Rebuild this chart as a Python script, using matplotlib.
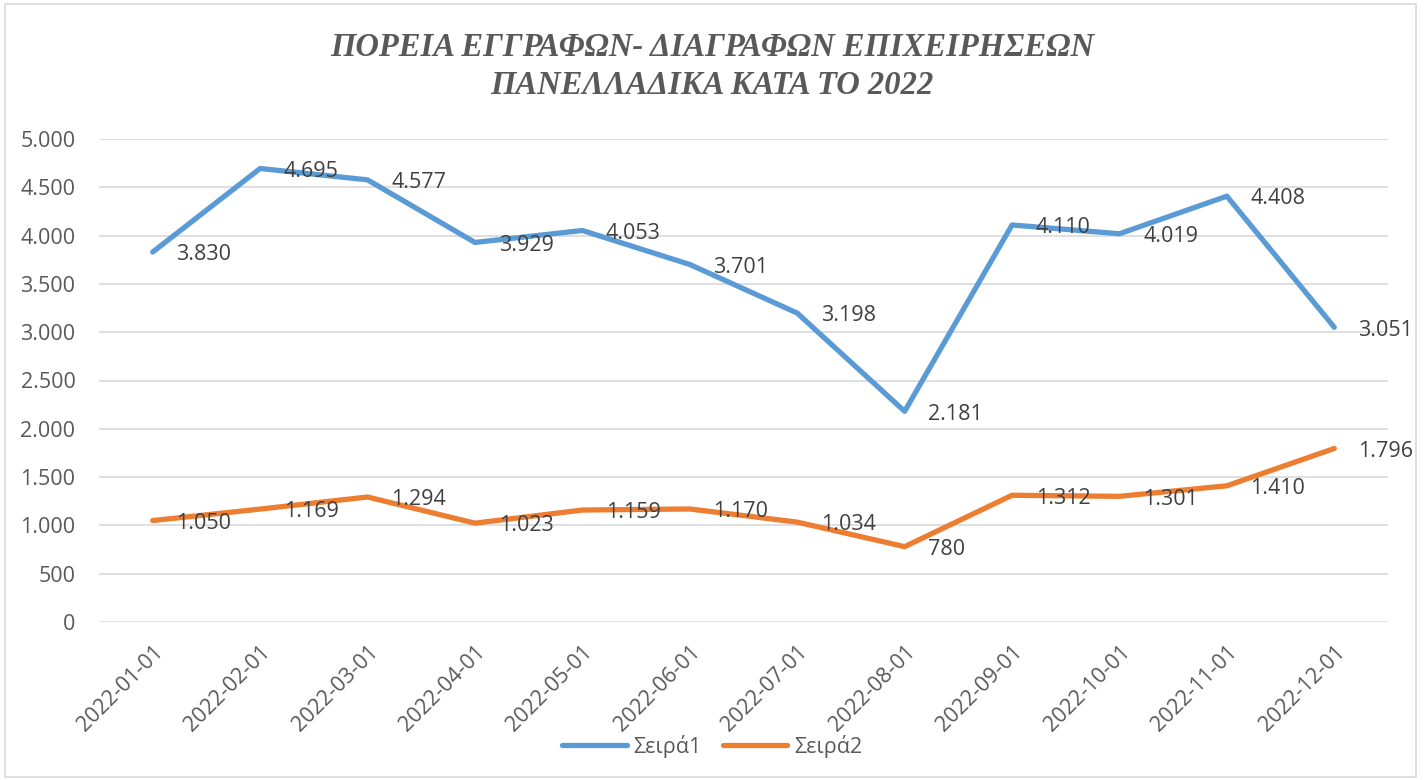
import matplotlib.pyplot as plt
from matplotlib.patches import Rectangle

# data
months = ["2022-01-01", "2022-02-01", "2022-03-01", "2022-04-01", "2022-05-01", "2022-06-01",
          "2022-07-01", "2022-08-01", "2022-09-01", "2022-10-01", "2022-11-01", "2022-12-01"]
seira1 = [3830, 4695, 4577, 3929, 4053, 3701, 3198, 2181, 4110, 4019, 4408, 3051]
seira2 = [1050, 1169, 1294, 1023, 1159, 1170, 1034, 780, 1312, 1301, 1410, 1796]
yticks = [0, 500, 1000, 1500, 2000, 2500, 3000, 3500, 4000, 4500, 5000]

blue = "#5B9BD5"
orange = "#ED7D31"
txt = "#595959"


def fmt(v):
    return f"{v:,}".replace(",", ".")


plt.rcParams['font.family'] = ['Open Sans', 'DejaVu Sans']

fig = plt.figure(figsize=(14.24, 7.8), dpi=100)
ax = fig.add_axes([99 / 1424, 1 - 622 / 780, (1388 - 99) / 1424, (622 - 139) / 780])

x = list(range(len(months)))
ax.plot(x, seira1, color=blue, lw=3.8, solid_capstyle='round', solid_joinstyle='round', label="Σειρά1")
ax.plot(x, seira2, color=orange, lw=3.8, solid_capstyle='round', solid_joinstyle='round', label="Σειρά2")

for xi, v in zip(x, seira1):
    ax.annotate(fmt(v), (xi, v), xytext=(17, -2), textcoords='offset points',
                ha='left', va='center', fontsize=15.5, color="#404040")
for xi, v in zip(x, seira2):
    ax.annotate(fmt(v), (xi, v), xytext=(17, -2), textcoords='offset points',
                ha='left', va='center', fontsize=15.5, color="#404040")

ax.set_xlim(-0.5, 11.5)
ax.set_ylim(0, 5000)
ax.set_yticks(yticks)
ax.set_yticklabels([fmt(t) for t in yticks])
ax.set_xticks(x)
ax.set_xticklabels(months, rotation=45, ha='right', rotation_mode='anchor')
ax.tick_params(axis='both', length=0, labelsize=15.5, labelcolor=txt)
ax.tick_params(axis='y', pad=17)
ax.tick_params(axis='x', pad=14)
ax.grid(axis='y', color="#D9D9D9", lw=1.2)
ax.set_axisbelow(True)
for s in ax.spines.values():
    s.set_visible(False)

fig.text(0.5, 1 - 48 / 780, "ΠΟΡΕΙΑ ΕΓΓΡΑΦΩΝ- ΔΙΑΓΡΑΦΩΝ ΕΠΙΧΕΙΡΗΣΕΩΝ", ha='center', va='center',
         family='Liberation Serif', style='italic', weight='bold', fontsize=23.5, color=txt)
fig.text(0.5, 1 - 85 / 780, "ΠΑΝΕΛΛΑΔΙΚΑ ΚΑΤΑ ΤΟ 2022", ha='center', va='center',
         family='Liberation Serif', style='italic', weight='bold', fontsize=23.5, color=txt)

leg = fig.legend(loc='center', bbox_to_anchor=(712 / 1424, 1 - 746 / 780), ncol=2, frameon=False,
                 fontsize=15.5, handlelength=3.0, columnspacing=1.0, handletextpad=0.3)
for t in leg.get_texts():
    t.set_color(txt)

fig.patches.append(Rectangle((5 / 1424, 3 / 780), 1411 / 1424, 773 / 780, transform=fig.transFigure,
                             fill=False, edgecolor="#D9D9D9", lw=1.2))

fig.savefig("out.png", dpi=100)
